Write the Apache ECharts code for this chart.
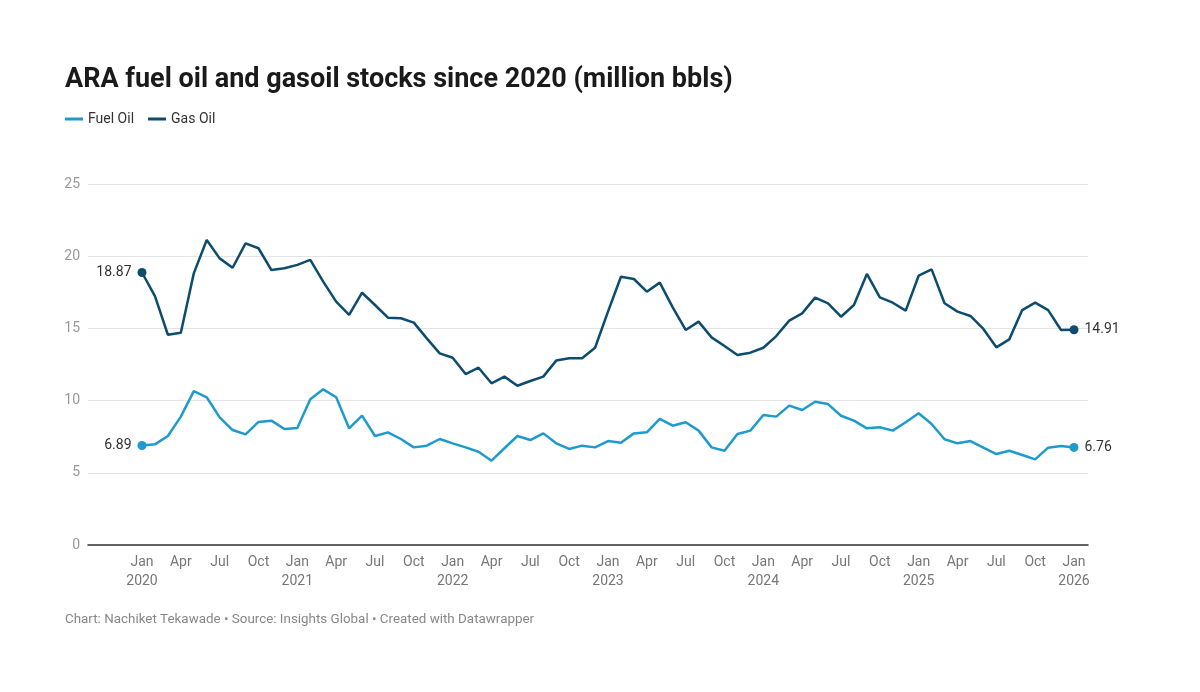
<!DOCTYPE html>
<html>
<head>
<meta charset="utf-8">
<script src="https://cdn.jsdelivr.net/npm/echarts@6/dist/echarts.min.js"></script>
<style>
html,body{margin:0;padding:0;background:#fff;}
#chart{width:1200px;height:692px;}
</style>
</head>
<body>
<div id="chart"></div>
<script>
// Monthly data, Jan 2020 .. Jan 2026
var startYear = 2020;
var quarterMonths = ['Jan', 'Apr', 'Jul', 'Oct'];
var yTicks = [0, 5, 10, 15, 20, 25];

var fuelOil = [6.89,6.97,7.55,8.89,10.66,10.23,8.84,7.96,7.66,8.52,
  8.61,8.03,8.10,10.09,10.78,10.23,8.08,8.96,7.55,7.80,
  7.34,6.76,6.88,7.34,7.04,6.76,6.46,5.84,6.70,7.55,
  7.27,7.73,7.04,6.65,6.88,6.76,7.20,7.08,7.73,7.80,
  8.73,8.26,8.50,7.92,6.76,6.53,7.69,7.92,9.00,8.89,
  9.65,9.35,9.92,9.76,8.95,8.61,8.08,8.15,7.92,8.50,
  9.12,8.38,7.32,7.04,7.20,6.74,6.30,6.53,6.23,5.93,
  6.74,6.86,6.76];

var gasOil = [18.87,17.24,14.56,14.70,18.81,21.12,19.85,19.20,20.89,20.55,
  19.04,19.16,19.40,19.74,18.24,16.85,15.93,17.47,16.62,15.74,
  15.70,15.40,14.31,13.27,12.97,11.84,12.28,11.20,11.66,11.03,
  11.36,11.66,12.77,12.93,12.93,13.66,16.16,18.58,18.42,17.54,
  18.17,16.46,14.89,15.47,14.38,13.78,13.16,13.32,13.66,14.47,
  15.54,16.04,17.13,16.74,15.81,16.62,18.77,17.15,16.78,16.23,
  18.65,19.09,16.74,16.16,15.86,14.96,13.69,14.24,16.27,16.78,
  16.27,14.89,14.91];

var FONT = 'Roboto, "Noto Sans", sans-serif';
var FUEL_COLOR = '#1e9bcc';
var GAS_COLOR = '#0c4c6e';

function buildData(arr) {
  var n = arr.length;
  return arr.map(function (v, i) {
    var item = { value: [i, v] };
    if (i === 0 || i === n - 1) {
      item.symbol = 'circle';
      item.symbolSize = 9;
      item.label = {
        show: true,
        position: i === 0 ? 'left' : 'right',
        distance: 6,
        formatter: v.toFixed(2),
        fontFamily: FONT,
        fontSize: 14,
        color: '#333'
      };
    } else {
      item.symbol = 'none';
      item.symbolSize = 0;
    }
    return item;
  });
}

var chart = echarts.init(document.getElementById('chart'), null, { renderer: 'canvas' });

var option = {
  animation: false,
  backgroundColor: '#fff',
  textStyle: { fontFamily: FONT },
  title: {
    text: 'ARA fuel oil and gasoil stocks since 2020 (million bbls)',
    left: 60,
    top: 62,
    textStyle: { fontFamily: FONT, fontSize: 27, fontWeight: 'bold', color: '#1a1a1a' }
  },
  legend: {
    left: 60,
    top: 107,
    icon: 'rect',
    itemWidth: 18,
    itemHeight: 3,
    itemGap: 14,
    textStyle: { fontFamily: FONT, fontSize: 14, color: '#333' },
    data: ['Fuel Oil', 'Gas Oil']
  },
  grid: [
    { left: 88, right: 112, top: 184, bottom: 147 },
    { left: 142, right: 126, top: 184, bottom: 147 }
  ],
  xAxis: [
    {
      gridIndex: 0, type: 'value', min: 0, max: 1,
      axisLine: { show: true, lineStyle: { color: '#333', width: 1.5 } },
      axisTick: { show: false }, axisLabel: { show: false }, splitLine: { show: false }
    },
    {
      gridIndex: 1, type: 'value', min: 0, max: (fuelOil.length - 1), interval: 3,
      axisLine: { show: false }, axisTick: { show: false }, splitLine: { show: false },
      axisLabel: {
        margin: 8,
        fontFamily: FONT, fontSize: 14, color: '#777', lineHeight: 19,
        formatter: function (v) {
          var m = v % 12;
          var q = quarterMonths[m / 3];
          if (m === 0) return q + '\n' + (startYear + v / 12);
          return q;
        }
      }
    }
  ],
  yAxis: [
    {
      gridIndex: 0, type: 'value', min: yTicks[0], max: yTicks[yTicks.length - 1], interval: 5,
      axisLine: { show: false }, axisTick: { show: false },
      axisLabel: { margin: 8, fontFamily: FONT, fontSize: 14, color: '#999' },
      splitLine: { show: true, lineStyle: { color: '#e4e4e4', width: 1 } }
    },
    {
      gridIndex: 1, type: 'value', min: yTicks[0], max: yTicks[yTicks.length - 1], show: false
    }
  ],
  series: [
    {
      name: 'Fuel Oil', type: 'line', xAxisIndex: 1, yAxisIndex: 1,
      data: buildData(fuelOil),
      lineStyle: { color: FUEL_COLOR, width: 2.5 },
      itemStyle: { color: FUEL_COLOR },
      showSymbol: true, z: 3
    },
    {
      name: 'Gas Oil', type: 'line', xAxisIndex: 1, yAxisIndex: 1,
      data: buildData(gasOil),
      lineStyle: { color: GAS_COLOR, width: 2.5 },
      itemStyle: { color: GAS_COLOR },
      showSymbol: true, z: 4
    }
  ],
  graphic: [
    {
      type: 'text', left: 65, top: 613,
      style: {
        text: 'Chart: Nachiket Tekawade \u2022 Source: Insights Global \u2022 Created with Datawrapper',
        fontFamily: FONT, fontSize: 13.4, fill: '#888'
      }
    }
  ]
};

chart.setOption(option);
</script>
</body>
</html>
